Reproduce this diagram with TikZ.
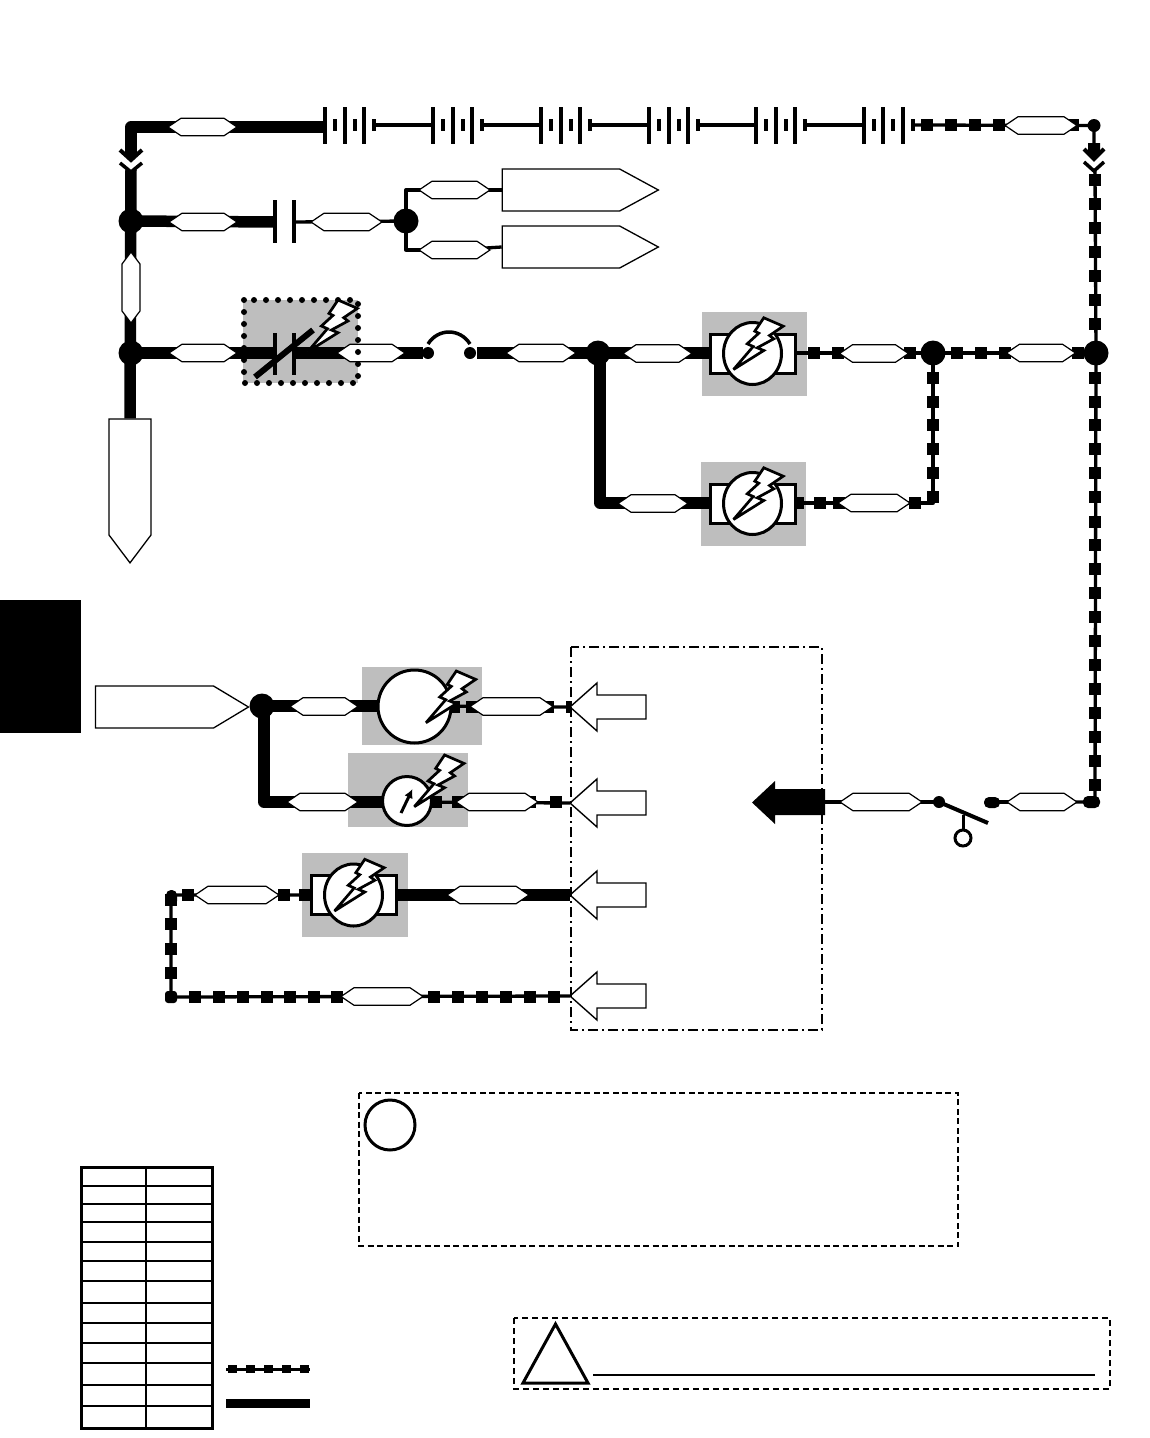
\documentclass[tikz,border=0pt]{standalone}
\usetikzlibrary{shapes.geometric,shapes.symbols,arrows.meta}
\pgfdeclarelayer{graylayer}
\pgfdeclarelayer{wirelayer}
\pgfsetlayers{graylayer,wirelayer,main}
\definecolor{boxgray}{gray}{0.745}
\tikzset{
  thinw/.style={line width=3.3pt,line join=round},
  thickw/.style={line width=11.5pt,line join=round},
  hexh/.style={draw,fill=white,line width=1.2pt,inner sep=0pt,shape=signal,signal to=east and west,signal pointer angle=68,minimum height=17.5pt},
  hexv/.style={draw,fill=white,line width=1.2pt,inner sep=0pt,shape=signal,signal to=north and south,signal pointer angle=74,minimum width=18pt},
  flag/.style={draw,fill=white,line width=1.3pt,inner sep=0pt,shape=signal,signal to=east,minimum height=42pt},
  juncn/.style={circle,fill=black,inner sep=0pt,minimum size=25pt},
  dotn/.style={circle,fill=black,inner sep=0pt,minimum size=12pt},
  grayb/.style={fill=boxgray},
  platew/.style={line width=4pt},
  boltst/.style={draw=black,fill=white,line width=2.7pt,line join=miter,miter limit=4},
  symb/.style={draw=black,fill=white,line width=3pt,inner sep=0pt},
  openarrow/.style={draw=black,fill=white,line width=1.4pt,line join=miter},
}
\newcommand{\sqh}[2]{\foreach \q in {#2} {\fill (\q-6,#1-6) rectangle (\q+6,#1+6);}}
\newcommand{\sqv}[2]{\foreach \q in {#2} {\fill (#1-6,\q-6) rectangle (#1+6,\q+6);}}
\newcommand{\boltat}[2]{\draw[boltst,shift={(#1,#2)}] (-19,16) -- (0.7,-7) -- (-5.3,-9.7) -- (6.3,-20.3) -- (2.3,-22.3) -- (11.3,-35.7) -- (30.7,-27.3) -- (17,-18) -- (21.3,-14.7) -- (4.7,-5.7) -- (11.3,-3) -- cycle;}
\newcommand{\motorat}[3]{%
  \node[symb,rectangle,minimum width=85pt,minimum height=39pt] (#1r) at (#2,#3) {};
  \node[symb,ellipse,minimum width=58pt,minimum height=62pt] (#1e) at (#2,#3) {};
  \boltat{#2}{#3}}
\newcommand{\batteryat}[2]{%
  \coordinate (#1l) at (#2,125);
  \coordinate (#1r) at (#2+49,125);
  \foreach \q in {0,19.5,39} {\draw[platew] (#2+\q,107) -- (#2+\q,144);}
  \foreach \q in {10,29.5,49} {\draw[platew] (#2+\q,119) -- (#2+\q,131);}}
\newcommand{\openarrowat}[2]{\draw[openarrow] (570,#2) -- (597,#2-24) -- (597,#2-12) -- (646,#2-12) -- (646,#2+12) -- (597,#2+12) -- (597,#2+24) -- cycle; \coordinate (#1) at (570,#2);}
\begin{document}
\begin{tikzpicture}[x=1pt,y=-1pt]
\useasboundingbox (0,0) rectangle (1149,1438);
\begin{pgfonlayer}{graylayer}
  \fill[white] (0,0) rectangle (1149,1438);
  \fill (0,600) rectangle (81,733);
  \fill[grayb] (243,300) rectangle (358,383);
  \fill[grayb] (702,312) rectangle (807,396);
  \fill[grayb] (701,462) rectangle (806,546);
  \fill[grayb] (362,667) rectangle (482,745);
  \fill[grayb] (348,753) rectangle (468,827);
  \fill[grayb] (302,853) rectangle (408,937);
\end{pgfonlayer}

% labels
\node[hexh,minimum width=69pt] (hTop) at (202.5,127) {};
\node[hexh,minimum width=72pt] (hTopR) at (1041,125.5) {};
\node[hexh,minimum width=68pt] (hC1) at (203,222) {};
\node[hexh,minimum width=71pt] (hC2) at (346.5,222) {};
\node[hexh,minimum width=71pt] (hUp) at (454.5,190) {};
\node[hexh,minimum width=71pt] (hDn) at (454.5,250) {};
\node[hexv,minimum height=47pt] (hV) at (131,287.5) {};
\node[hexh,minimum width=68pt] (hA) at (203,353) {};
\node[hexh,minimum width=68pt] (hB) at (371,353) {};
\node[hexh,minimum width=70pt] (hD) at (541,353) {};
\node[hexh,minimum width=69pt] (hE) at (657.5,353.5) {};
\node[hexh,minimum width=69pt] (hF) at (874,353.5) {};
\node[hexh,minimum width=69pt] (hG) at (1041,353) {};
\node[hexh,minimum width=70pt] (hH) at (653,503.5) {};
\node[hexh,minimum width=72pt] (hI) at (874,503) {};
\node[hexh,minimum width=68pt] (hJ) at (324,706.5) {};
\node[hexh,minimum width=83pt] (hK) at (511.5,706.5) {};
\node[hexh,minimum width=71pt] (hL) at (322.5,802) {};
\node[hexh,minimum width=82pt] (hM) at (497,802) {};
\node[hexh,minimum width=84pt] (hN) at (237,895) {};
\node[hexh,minimum width=82pt] (hO) at (488,895) {};
\node[hexh,minimum width=82pt] (hP) at (382,996.5) {};
\node[hexh,minimum width=82pt] (hQ) at (881,802) {};
\node[hexh,minimum width=70pt] (hR) at (1042,802) {};

% flags
\node[flag,minimum width=156pt,signal pointer angle=57] (fl1) at (561,190) {};
\node[flag,minimum width=156pt,signal pointer angle=57] (fl2) at (561,247) {};
\node[flag,minimum width=153pt,signal pointer angle=62] (fl3) at (154.5,707) {};
\node[draw,fill=white,line width=1.3pt,inner sep=0pt,shape=signal,signal to=south,signal pointer angle=74,minimum width=42pt,minimum height=116pt] (fl4) at (130,477) {};

% junctions
\node[juncn] (j1) at (131,221) {};
\node[juncn] (j2) at (131,353) {};
\node[juncn] (j3) at (406,221) {};
\node[juncn] (j4) at (598,353) {};
\node[juncn] (j5) at (933,353) {};
\node[juncn] (j6) at (1096,353) {};
\node[juncn] (j7) at (262,706) {};
\node[dotn] (fa) at (428,353) {};
\node[dotn] (fb) at (470,353) {};
\node[dotn] (sw) at (939,802) {};
\node[dotn,minimum size=13pt] (cTR) at (1094,125.5) {};

% named waypoints
\coordinate (c1) at (131,127);
\coordinate (capA) at (275,222);
\coordinate (capB) at (294,222);
\coordinate (vcA) at (275,353);
\coordinate (vcB) at (294,353);
\coordinate (fa1) at (423,353);
\coordinate (fb1) at (477,353);
\coordinate (m1l) at (710,353);
\coordinate (m1r) at (795,353);
\coordinate (m2l) at (710,503);
\coordinate (m2r) at (795,503);
\coordinate (m3l) at (311,895);
\coordinate (m3r) at (396,895);
\coordinate (cm0) at (600,353);
\coordinate (cm) at (600,503);
\coordinate (cR) at (933,503);
\coordinate (cL0) at (264,706);
\coordinate (cL1) at (264,802);
\coordinate (cL2) at (171,895);
\coordinate (cL3) at (171,997);
\coordinate (cBR) at (1095,802);
\coordinate (chevL1) at (131,155);
\coordinate (chevL2) at (131,170);
\coordinate (chevR1) at (1094,143);
\coordinate (chevR2) at (1095,171);
\coordinate (bk) at (825,802);
\coordinate (swgap) at (993,802);
\coordinate (swend) at (988,823);
\coordinate (stem) at (963,815);
\coordinate (c1end) at (325,127);
\coordinate (c414) at (380,706);
\coordinate (c415) at (415,706);
\coordinate (c407) at (383,802);
\coordinate (c408) at (407,802);

% batteries
\batteryat{b1}{325}
\batteryat{b2}{433}
\batteryat{b3}{541}
\batteryat{b4}{649}
\batteryat{b5}{756}
\batteryat{b6}{863.5}

% capacitors
\draw[platew] (275,200) -- (275,243);
\draw[platew] (294,200) -- (294,243);

% openings at dash-dot box
\openarrowat{aa}{707}
\openarrowat{ab}{803}
\openarrowat{ac}{895}
\openarrowat{ad}{996}

\begin{pgfonlayer}{wirelayer}
  % top left bus
  \draw[thickw] (c1end) -- (c1) -- (chevL1);
  \fill (125.25,150) -- (136.75,150) -- (136.75,155) -- (131,161) -- (125.25,155) -- cycle;
  \draw[thickw] (chevL2) -- (fl4.north);
  \draw[thickw] (j1.center) -- (capA);
  \draw[thickw] (j2.center) -- (vcA);
  \draw[thickw] (vcB) -- (fa1);
  \draw[thickw] (fb1) -- (j4.center);
  \draw[thickw] (j4.center) -- (m1l);
  \draw[thickw] (cm0) -- (cm) -- (m2l);
  % small wires
  \draw[thinw] (capB) -- (j3.center);
  \draw[thinw] (hUp.center) -- (406,190) -- (j3.center) -- (406,250) -- (hDn.center);
  \draw[thinw] (hUp.center) -- (fl1.west);
  \draw[thinw] (hDn.center) -- (fl2.west);
  \draw[thinw] (b1r) -- (b2l) (b2r) -- (b3l) (b3r) -- (b4l) (b4r) -- (b5l) (b5r) -- (b6l);
  \draw[thinw] (b6r) -- (cTR.center) -- (chevR1);
  \draw[thinw] (chevR2) -- (j6.center);
  \draw[thinw] (j6.center) -- (cBR) -- (hR.center);
  \draw[thinw] (m1r) -- (j5.center) -- (j6.center);
  \draw[thinw] (j5.center) -- (cR) -- (m2r);
  % lower bus
  \draw[thickw] (j7.center) -- (c414);
  \draw[thickw] (cL0) -- (cL1) -- (c407);
  \draw[thinw] (c415) -- (aa);
  \draw[thinw] (c408) -- (ab);
  \draw[thickw] (m3r) -- (ac);
  \draw[thinw] (m3l) -- (cL2) -- (cL3) -- (ad);
  \draw[thinw] (bk) -- (sw.center);
  \draw[thinw] (hR.center) -- (swgap);
  % squares
  \sqh{125}{927,951,975,999,1073}
  \sqv{1095}{180,204,228,252,276,300,324,378,402,425,449,473,497,522,545,569,593,617,641,665,689,713,737,761,785}
  \sqh{353}{814,838,910,957,981,1005,1078}
  \sqv{933}{378,402,425,449,473,497}
  \sqh{503}{798,820,839,915}
  \sqh{707}{454,472,548}
  \fill (566,701) rectangle (572,713);
  \sqh{802}{436,458,530,556}
  \sqh{895}{188,284,305}
  \sqv{171}{900,924,949,973}
  \sqh{997}{195,219,243,267,290,314,337,434,458,482,506,530,554}
  % blobs
  \fill[rounded corners=5pt] (166,890) rectangle (177,906);
  \fill[rounded corners=3pt] (165,991) rectangle (177,1003);
  \fill[rounded corners=5pt] (984,797) rectangle (1000,808);
  \fill[rounded corners=5pt] (1083,796) rectangle (1100,808);
\end{pgfonlayer}

% arrow marks on buses
\draw[line width=4pt,line join=miter] (120,150) -- (131,160) -- (142,150);
\draw[line width=3.5pt,line join=miter] (120,163) -- (131,172) -- (142,163);
\fill (1088,143) -- (1100,143) -- (1100,153) -- (1094,159) -- (1088,153) -- cycle;
\draw[line width=4pt,line join=miter] (1084,149) -- (1094,159) -- (1104,149);
\draw[line width=3.5pt,line join=miter] (1084,162) -- (1094,171) -- (1104,162);

% variable capacitor
\draw[line width=6pt,line cap=round,dash pattern=on 0pt off 12pt] (244,300) rectangle (358,383);
\draw[platew] (275,333) -- (275,375);
\draw[platew] (294,333) -- (294,375);
\draw[line width=6pt] (255,377) -- (313,330);
\boltat{326.7}{335.7}

% fuse
\coordinate (faTop) at (428,344);
\coordinate (fbTop) at (470,344);
\draw[line width=3.5pt] (faTop) .. controls (438,328) and (460,328) .. (fbTop);

% motors
\motorat{mA}{752.5}{353.5}
\motorat{mB}{752.5}{503.5}
\motorat{mC}{353.5}{895}
\node[symb,circle,minimum size=73pt] (cA) at (414.5,706.5) {};
\boltat{445}{706.7}
\node[symb,circle,minimum size=49pt] (cB) at (407,801) {};
\draw[line width=3pt,-{Latex[length=9pt,width=9pt]}] (401,813) -- (412.5,789);
\boltat{433.3}{790.7}

% switch
\draw[line width=4pt] (sw.center) -- (swend);
\draw[line width=3pt] (stem) -- (963,830);
\node[draw,fill=white,line width=3pt,circle,inner sep=0pt,minimum size=16pt] (swc) at (963,838) {};

% solid arrow
\fill (752,802.5) -- (775,781) -- (775,789) -- (825,789) -- (825,815) -- (775,815) -- (775,824) -- cycle;

% dash-dot box
\draw[line width=1.6pt,dash pattern=on 10pt off 4pt on 2pt off 4pt] (571,647) rectangle (822,1030);

% note box
\draw[line width=1.4pt,dash pattern=on 6pt off 3.5pt] (359,1093) rectangle (958,1246);
\node[draw,line width=3pt,circle,inner sep=0pt,minimum size=50pt] (noteC) at (390,1125) {};

% warning box
\draw[line width=2pt,dash pattern=on 6pt off 4pt] (514,1318) rectangle (1110,1389);
\draw[line width=3pt,line join=miter] (555.5,1324) -- (588,1383) -- (523,1383) -- cycle;
\draw[line width=1.7pt] (593,1375) -- (1095,1375);

% legend table
\draw[line width=3pt] (81.5,1167) rectangle (212.5,1428);
\draw[line width=2pt] (146,1167) -- (146,1428);
\foreach \q in {1186,1204,1222,1242,1261,1281,1303,1323,1343,1363,1385,1406} {\draw[line width=2pt] (81.5,\q) -- (212.5,\q);}

% legend samples
\draw[line width=3pt] (226,1369) -- (310,1369);
\foreach \q in {232,250,268,286,304} {\fill (\q-4.5,1365) rectangle (\q+4.5,1373);}
\fill (226,1399) rectangle (310,1408);
\end{tikzpicture}
\end{document}
